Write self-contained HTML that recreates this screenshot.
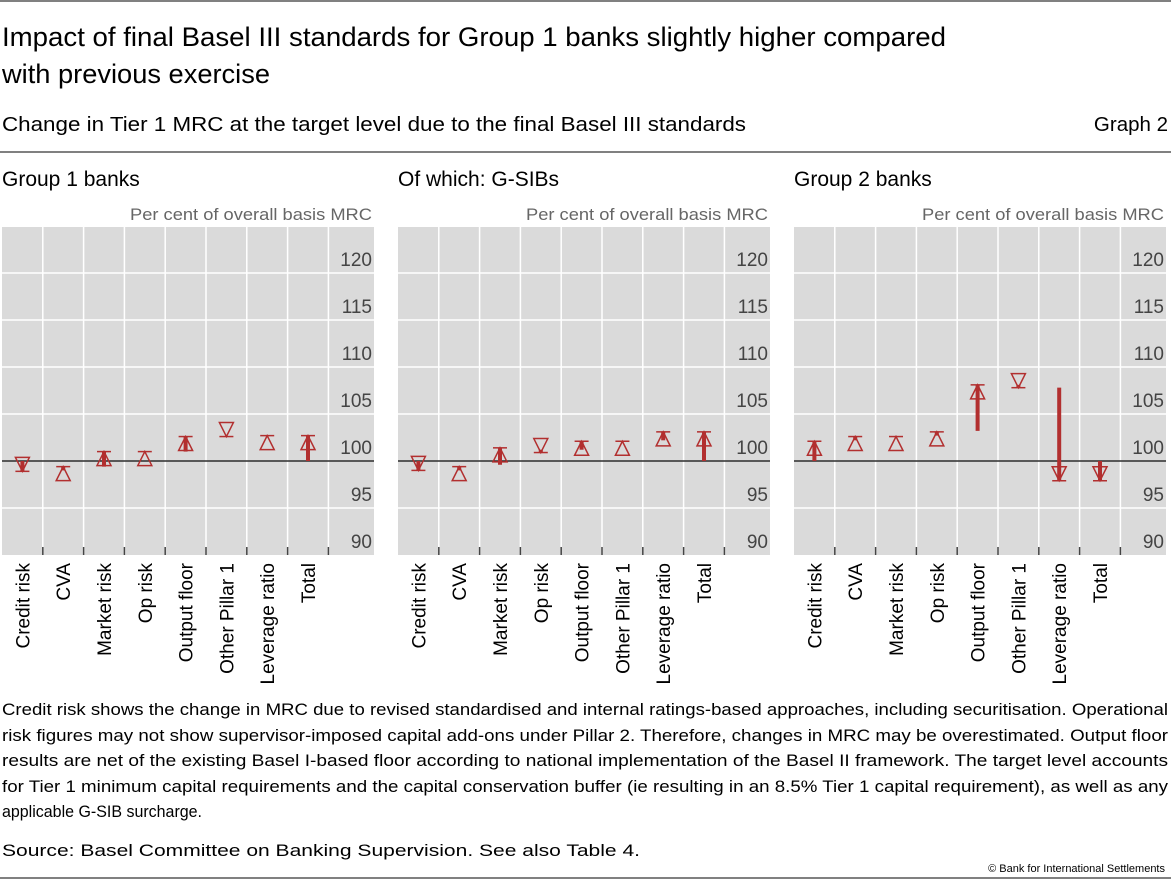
<!DOCTYPE html>
<html><head><meta charset="utf-8"><style>
body{margin:0;background:#fff;}
svg{display:block;font-family:"Liberation Sans",sans-serif;}
</style></head><body>
<svg width="1171" height="880" viewBox="0 0 1171 880" xmlns="http://www.w3.org/2000/svg" id="chart">
<line x1="0" y1="1" x2="1171" y2="1" stroke="#000" stroke-width="1"/>
<text x="2" y="46" font-size="27" textLength="944" lengthAdjust="spacingAndGlyphs" fill="#000">Impact of final Basel III standards for Group 1 banks slightly higher compared</text>
<text x="2" y="83" font-size="27" textLength="268" lengthAdjust="spacingAndGlyphs" fill="#000">with previous exercise</text>
<text x="2" y="131" font-size="20.5" textLength="744" lengthAdjust="spacingAndGlyphs" fill="#000">Change in Tier 1 MRC at the target level due to the final Basel III standards</text>
<text x="1168" y="131" font-size="20.5" text-anchor="end" fill="#000">Graph 2</text>
<line x1="0" y1="152" x2="1171" y2="152" stroke="#000" stroke-width="1"/>
<g id="panels"></g>
<g font-size="16.5" fill="#000">
<text x="2" y="715" textLength="1166" lengthAdjust="spacingAndGlyphs">Credit risk shows the change in MRC due to revised standardised and internal ratings-based approaches, including securitisation. Operational</text>
<text x="2" y="741" textLength="1166" lengthAdjust="spacingAndGlyphs">risk figures may not show supervisor-imposed capital add-ons under Pillar 2. Therefore, changes in MRC may be overestimated. Output floor</text>
<text x="2" y="766" textLength="1166" lengthAdjust="spacingAndGlyphs">results are net of the existing Basel I-based floor according to national implementation of the Basel II framework. The target level accounts</text>
<text x="2" y="792" textLength="1166" lengthAdjust="spacingAndGlyphs">for Tier 1 minimum capital requirements and the capital conservation buffer (ie resulting in an 8.5% Tier 1 capital requirement), as well as any</text>
<text x="2" y="817" font-size="17" textLength="200" lengthAdjust="spacingAndGlyphs">applicable G-SIB surcharge.</text>
</g>
<text x="2" y="856" font-size="16.5" textLength="638" lengthAdjust="spacingAndGlyphs" fill="#000">Source: Basel Committee on Banking Supervision. See also Table 4.</text>
<text x="1165" y="872" font-size="11" text-anchor="end" fill="#000">© Bank for International Settlements</text>
<line x1="0" y1="878" x2="1171" y2="878" stroke="#000" stroke-width="1"/>
</svg>
<script>
const categories = ["Credit risk","CVA","Market risk","Op risk","Output floor","Other Pillar 1","Leverage ratio","Total"];
const yTicks = [90,95,100,105,110,115,120];
const panelTitles = ["Group 1 banks","Of which: G-SIBs","Group 2 banks"];
const g1Apex = [98.9,99.4,101.0,101.0,102.6,102.6,102.7,102.7];
const g1Dir = [-1,1,1,1,1,-1,1,1];
const g1From = [100,99.0,99.4,101.0,101.0,102.6,102.7,100];
const g1To = [98.9,99.4,101.0,101.0,102.6,102.6,102.7,102.7];
const g2Apex = [99.0,99.4,101.4,100.9,102.1,102.1,103.1,103.1];
const g2Dir = [-1,1,1,-1,1,1,1,1];
const g2From = [100,99.0,99.6,101.2,101.2,102.1,102.2,100];
const g2To = [99.0,99.4,101.4,100.9,102.1,102.1,103.1,103.1];
const g3Apex = [102.1,102.6,102.6,103.1,108.1,107.8,97.9,97.9];
const g3Dir = [1,1,1,1,1,-1,-1,-1];
const g3From = [100,102.2,102.6,102.7,103.2,108.1,107.8,100];
const g3To = [102.1,102.6,102.6,103.1,108.1,107.8,97.9,97.9];

const panels = [
 {x:2, apex:g1Apex, dir:g1Dir, from:g1From, to:g1To},
 {x:398, apex:g2Apex, dir:g2Dir, from:g2From, to:g2To},
 {x:794, apex:g3Apex, dir:g3Dir, from:g3From, to:g3To}
];
const NS="http://www.w3.org/2000/svg";
const root=document.getElementById('panels');
const plotTop=227, plotBot=555, colW=40.8, red="#b22f2f";
function yPos(v){return 461-(v-100)*9.4;}
function mk(tag,attrs,parent){const e=document.createElementNS(NS,tag);for(const k in attrs)e.setAttribute(k,attrs[k]);(parent||root).appendChild(e);return e;}
panels.forEach((p,pi)=>{
  const g=mk('g',{});
  
  
  const t=mk('text',{x:p.x,y:186,'font-size':21,fill:'#000'},g);t.textContent=panelTitles[pi];
  
  
  const w=Math.min(372,1169-p.x);
  const u=mk('text',{x:p.x+w-2,y:220,'font-size':17,fill:'#666','text-anchor':'end',textLength:242,lengthAdjust:'spacingAndGlyphs'},g);u.textContent="Per cent of overall basis MRC";
  
  
  const bg=mk('rect',{x:p.x,y:plotTop,width:w,height:plotBot-plotTop,fill:'#dadada'},g);
  
  
  yTicks.forEach(v=>{
    if(v>90){const l=mk('line',{x1:p.x,x2:p.x+w,y1:yPos(v),y2:yPos(v),stroke:'#fff','stroke-width':1.5},g);
    
    }
    const tx=mk('text',{x:p.x+w-2,y:yPos(v)-7,'font-size':19,fill:'#444','text-anchor':'end'},g);tx.textContent=v;
    
    
  });
  for(let i=1;i<=8;i++){
    const xx=p.x+i*colW;
    mk('line',{x1:xx,x2:xx,y1:plotTop,y2:plotBot,stroke:'#fff','stroke-width':1.5},g);
    mk('line',{x1:xx,x2:xx,y1:plotBot-8,y2:plotBot,stroke:'#444','stroke-width':1.5},g);
  }
  const bl=mk('line',{x1:p.x,x2:p.x+w,y1:yPos(100),y2:yPos(100),stroke:'#000','stroke-width':1.2},g);
  
  
  categories.forEach((c,i)=>{
    const cx=p.x+colW*(i+0.5);
    const lab=mk('text',{transform:`translate(${cx+7},563) rotate(-90)`,'font-size':19,fill:'#000','text-anchor':'end'},g);lab.textContent=c;
    
    
    const m=mk('g',{},g);
    
    
    const a=yPos(p.apex[i]), d=p.dir[i], h=14, hw=7;
    const base=a+d*h;
    mk('polygon',{points:`${cx},${a} ${cx-hw},${base} ${cx+hw},${base}`,fill:'none',stroke:red,'stroke-width':1.5},m);
    mk('line',{x1:cx-hw,x2:cx+hw,y1:a,y2:a,stroke:red,'stroke-width':1.5},m);
    const y1=yPos(p.from[i]),y2=yPos(p.to[i]);
    if(Math.abs(y1-y2)>0.5) mk('line',{x1:cx,x2:cx,y1:y1,y2:y2,stroke:red,'stroke-width':4},m);
  });
});
</script>
</body></html>
